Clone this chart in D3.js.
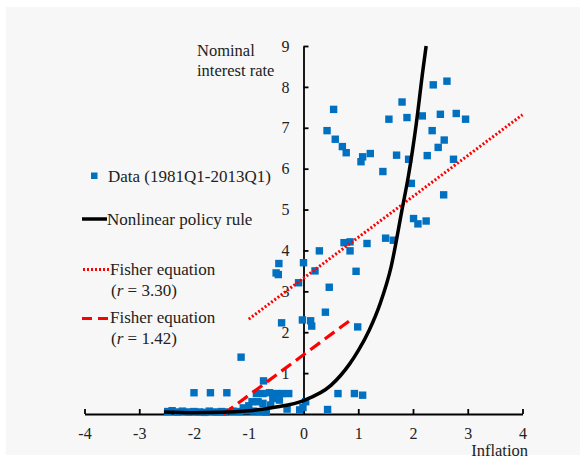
<!DOCTYPE html>
<html>
<head>
<meta charset="utf-8">
<script src="https://cdn.jsdelivr.net/npm/d3@7"></script>
<style>
  body { margin: 0; background: #fff; }
  text { font-family: "Liberation Serif", "Times New Roman", serif; font-size: 16px; fill: #222; }
  .axis path, .axis line { stroke: #000; stroke-width: 1.8; }
  .axis text { font-family: "Liberation Serif", serif; font-size: 16px; fill: #222; }
  #legend text { font-size: 17px; }
</style>
</head>
<body>
<div id="main"></div>
<script>
//size of the picture
const width = 586;
const height = 461;

//tick values
const xTicks = [-4, -3, -2, -1, 0, 1, 2, 3, 4];
const yTicks = [1, 2, 3, 4, 5, 6, 7, 8, 9];

//quarterly data, inflation and nominal interest rate
const dataInflation = [
  0.55, 0.43, 0.58, 0.71, 0.78, 1.08, 1.22, 1.05, 1.45, 1.56,
  1.80, 1.89, 1.70, 1.92, 2.17, 2.37, 2.62, 2.50, 2.79, 2.96,
  2.35, 2.57, 2.46, 2.26, 2.74, 1.97, 2.56, 2.01, 2.09, 2.24,
  0.74, 0.85, 0.85, 1.16, 1.50, 1.64, 0.29,
  -0.45, -0.50, -0.46, -0.09, 0.00, 0.21, 0.47, 0.40, 0.13, 0.15,
  -0.02, -0.40, 0.99, 0.96, -1.14, -0.73,
  -2.00, -1.70, -1.40, -0.86, -0.74, -0.62, -0.50, -0.39, -0.27, 0.63, 0.93, 1.08,
  -0.94, -0.83, -0.74, -0.56, -0.44, 0.04, -0.07, 0.44, -0.01,
  -2.48, -2.40, -2.30, -2.21, -2.10, -2.00, -1.90, -1.80, -1.72, -1.59,
  -1.50, -1.44, -1.29, -1.17, -1.05, -0.92, -0.80, -0.68, -1.00, -1.10, -0.60, -0.30
];
const dataRate = [
  7.45, 6.93, 6.72, 6.54, 6.39, 6.29, 6.37, 6.17, 5.93, 7.21,
  7.63, 7.25, 6.33, 6.23, 7.29, 8.05, 8.14, 7.33, 7.35, 7.21,
  6.93, 6.70, 6.52, 6.32, 6.23, 5.64, 5.36, 4.78, 4.65, 4.72,
  4.19, 4.21, 3.99, 4.17, 4.30, 4.25, 3.99,
  3.68, 3.45, 3.41, 3.21, 3.70, 3.50, 3.10, 2.49, 2.28, 2.15,
  2.30, 2.23, 2.13, 3.49, 1.39, 0.81,
  0.52, 0.52, 0.52, 0.50, 0.50, 0.52, 0.50, 0.50, 0.50, 0.50, 0.50, 0.46,
  0.30, 0.30, 0.26, 0.38, 0.34, 0.30, 0.10, 0.11, 0.16,
  0.06, 0.08, 0.05, 0.07, 0.05, 0.06, 0.05, 0.04, 0.07, 0.05,
  0.06, 0.05, 0.07, 0.06, 0.08, 0.07, 0.06, 0.05, 0.20, 0.15, 0.22, 0.12
];

//nonlinear policy rule
const ruleInflation = [-2.55, -2.0, -1.5, -1.0, -0.5, 0.0, 0.5, 0.84, 1.0, 1.2, 1.4, 1.6, 1.8, 1.92, 2.06, 2.18, 2.24];
const ruleRate = [0.05, 0.03, 0.04, 0.08, 0.17, 0.33, 0.70, 1.22, 1.55, 2.05, 2.7, 3.6, 5.0, 5.85, 7.1, 8.4, 9.0];

//Fisher equation lines
const fisherHighInflation = [-1.0, 4.0];
const fisherHighRate = [2.32, 7.32];
const fisherLowInflation = [-1.46, 0.87];
const fisherLowRate = [0.0, 2.31];

//svg container
const svg = d3.select('#main')
              .append('svg')
              .attr('width', width)
              .attr('height', height);

//light gray panel
svg.append('rect')
   .attr('x', 6).attr('y', 7)
   .attr('width', 574).attr('height', 448)
   .style('fill', '#f7f7f7');

//scales
const xScale = d3.scaleLinear().domain([-4, 4]).range([84.5, 522.5]);
const yScale = d3.scaleLinear().domain([0, 9]).range([414, 46]);

//axes, ticks point inward
const xAxis = d3.axisBottom(xScale).tickValues(xTicks)
                .tickSizeInner(-5).tickSizeOuter(0).tickPadding(14)
                .tickFormat(d => d < 0 ? '-' + Math.abs(d) : d);
const yAxis = d3.axisLeft(yScale).tickValues(yTicks)
                .tickSizeInner(-5).tickSizeOuter(0).tickPadding(14);

svg.append('g').attr('class', 'axis')
   .attr('transform', 'translate(0,' + yScale(0) + ')')
   .call(xAxis);

svg.append('g').attr('class', 'axis')
   .attr('transform', 'translate(' + xScale(0) + ',0)')
   .call(yAxis);

svg.selectAll('.axis .domain').style('fill', 'none');

//axis titles
svg.append('text').attr('x', 197).attr('y', 56).style('font-size', '16.5px').text('Nominal');
svg.append('text').attr('x', 197).attr('y', 76).style('font-size', '16.5px').text('interest rate');
svg.append('text').attr('x', 528).attr('y', 456)
   .style('text-anchor', 'end').style('font-size', '16.5px').text('Inflation');

//data squares
const points = dataInflation.map((d, i) => [d, dataRate[i]]);
svg.selectAll('.dot').data(points).enter()
   .append('rect').attr('class', 'dot')
   .attr('x', d => xScale(d[0]) - 3.7)
   .attr('y', d => yScale(d[1]) - 3.7)
   .attr('width', 7.4).attr('height', 7.4)
   .style('fill', '#0070c0');

//lines
const line = d3.line().x(d => xScale(d[0])).y(d => yScale(d[1]));

svg.append('path')
   .datum(fisherHighInflation.map((d, i) => [d, fisherHighRate[i]]))
   .attr('d', line)
   .style('fill', 'none').style('stroke', '#ff0000')
   .style('stroke-width', 3).style('stroke-dasharray', '2,2');

svg.append('path')
   .datum(fisherLowInflation.map((d, i) => [d, fisherLowRate[i]]))
   .attr('d', line)
   .style('fill', 'none').style('stroke', '#ff0000')
   .style('stroke-width', 3.2).style('stroke-dasharray', '12,6');

svg.append('path')
   .datum(ruleInflation.map((d, i) => [d, ruleRate[i]]))
   .attr('d', line.curve(d3.curveMonotoneX))
   .style('fill', 'none').style('stroke', '#000')
   .style('stroke-width', 3.5);

//legend
const legend = svg.append('g').attr('id', 'legend');

legend.append('rect')
      .attr('x', 91).attr('y', 172.5).attr('width', 6.5).attr('height', 6.5)
      .style('fill', '#0070c0');
legend.append('text').attr('x', 108).attr('y', 181.5).text('Data (1981Q1-2013Q1)');

legend.append('line')
      .attr('x1', 82).attr('x2', 107).attr('y1', 219).attr('y2', 219)
      .style('stroke', '#000').style('stroke-width', 3.5);
legend.append('text').attr('x', 107).attr('y', 224.5).text('Nonlinear policy rule');

legend.append('line')
      .attr('x1', 83).attr('x2', 109).attr('y1', 269.5).attr('y2', 269.5)
      .style('stroke', '#ff0000').style('stroke-width', 3).style('stroke-dasharray', '2,2');
legend.append('text').attr('x', 110).attr('y', 274.5).text('Fisher equation');
const t1 = legend.append('text').attr('x', 111).attr('y', 295.5);
t1.append('tspan').text('(');
t1.append('tspan').style('font-style', 'italic').text('r');
t1.append('tspan').text(' = 3.30)');

legend.append('line')
      .attr('x1', 82).attr('x2', 108).attr('y1', 318.5).attr('y2', 318.5)
      .style('stroke', '#ff0000').style('stroke-width', 3.2).style('stroke-dasharray', '10,6');
legend.append('text').attr('x', 110).attr('y', 322.5).text('Fisher equation');
const t2 = legend.append('text').attr('x', 111).attr('y', 343.5);
t2.append('tspan').text('(');
t2.append('tspan').style('font-style', 'italic').text('r');
t2.append('tspan').text(' = 1.42)');
</script>
</body>
</html>
